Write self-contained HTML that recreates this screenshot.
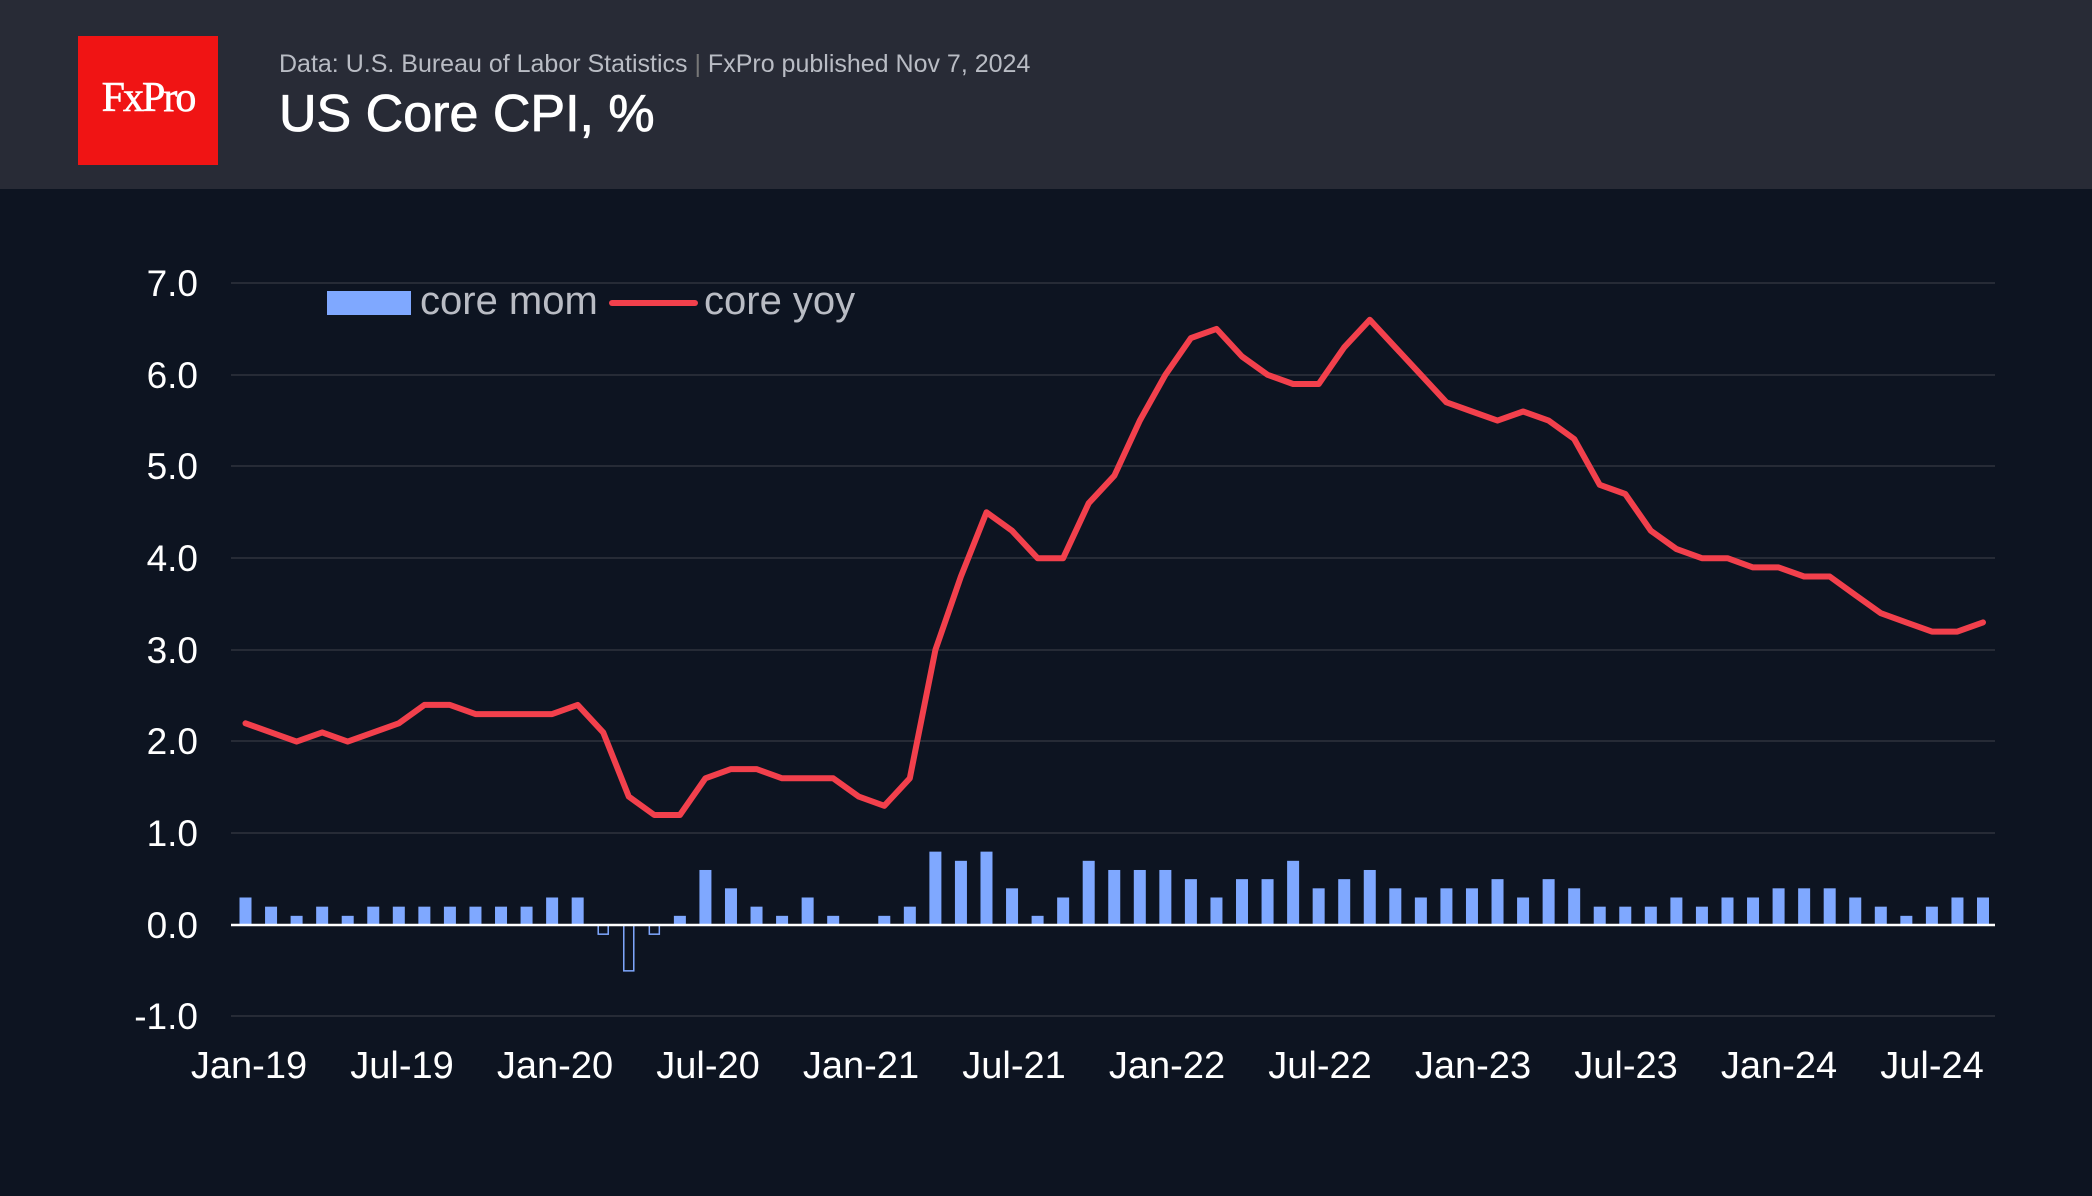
<!DOCTYPE html>
<html><head><meta charset="utf-8"><style>
html,body{margin:0;padding:0;background:#0d1421;}
body{width:2092px;height:1196px;overflow:hidden;position:relative;font-family:"Liberation Sans",sans-serif;}
</style></head><body>
<svg width="2092" height="1196" xmlns="http://www.w3.org/2000/svg" style="position:absolute;left:0;top:0">
<rect x="0" y="0" width="2092" height="1196" fill="#0d1421"/>
<rect x="0" y="0" width="2092" height="189" fill="#282b36"/>
<rect x="78" y="36" width="140" height="129" fill="#f01414"/>
<text x="148" y="111" fill="#fff" font-family="Liberation Serif,serif" font-size="42" text-anchor="middle" letter-spacing="-2" stroke="#fff" stroke-width="0.6">FxPro</text>
<text x="279" y="72" fill="#b9bcc4" font-size="25">Data: U.S. Bureau of Labor Statistics <tspan fill="#777">|</tspan> FxPro published Nov 7, 2024</text>
<text x="279" y="131" fill="#fff" font-size="52" stroke="#fff" stroke-width="0.8">US Core CPI, %</text>
<g stroke="#262b36" stroke-width="2">
<line x1="231" x2="1995" y1="283" y2="283"/><line x1="231" x2="1995" y1="375" y2="375"/>
<line x1="231" x2="1995" y1="466" y2="466"/><line x1="231" x2="1995" y1="558" y2="558"/>
<line x1="231" x2="1995" y1="650" y2="650"/><line x1="231" x2="1995" y1="741" y2="741"/>
<line x1="231" x2="1995" y1="833" y2="833"/><line x1="231" x2="1995" y1="1016" y2="1016"/>
</g>
<g fill="#fff" font-size="37" text-anchor="end">
<text x="198" y="296">7.0</text><text x="198" y="388">6.0</text><text x="198" y="479">5.0</text>
<text x="198" y="571">4.0</text><text x="198" y="663">3.0</text><text x="198" y="754">2.0</text>
<text x="198" y="846">1.0</text><text x="198" y="938">0.0</text><text x="198" y="1029">-1.0</text>
</g>
<g fill="#fff" font-size="38" text-anchor="middle">
<text x="249" y="1078">Jan-19</text><text x="402" y="1078">Jul-19</text><text x="555" y="1078">Jan-20</text>
<text x="708" y="1078">Jul-20</text><text x="861" y="1078">Jan-21</text><text x="1014" y="1078">Jul-21</text>
<text x="1167" y="1078">Jan-22</text><text x="1320" y="1078">Jul-22</text><text x="1473" y="1078">Jan-23</text>
<text x="1626" y="1078">Jul-23</text><text x="1779" y="1078">Jan-24</text><text x="1932" y="1078">Jul-24</text>
</g>
<g id="bars"></g>
<line x1="231" x2="1995" y1="925" y2="925" stroke="#fff" stroke-width="2.5"/>
<polyline id="yoy" fill="none" stroke="#f2404c" stroke-width="6" stroke-linejoin="round" stroke-linecap="round" points=""/>
<rect x="327" y="291" width="84" height="24" fill="#7fa8ff"/>
<text x="420" y="314" fill="#b9bcc4" font-size="40">core mom</text>
<line x1="612" x2="695" y1="303" y2="303" stroke="#f2404c" stroke-width="6" stroke-linecap="round"/>
<text x="704" y="314" fill="#b9bcc4" font-size="40">core yoy</text>
</svg>
<script>
var yoy=[2.2,2.1,2.0,2.1,2.0,2.1,2.2,2.4,2.4,2.3,2.3,2.3,2.3,2.4,2.1,1.4,1.2,1.2,1.6,1.7,1.7,1.6,1.6,1.6,1.4,1.3,1.6,3.0,3.8,4.5,4.3,4.0,4.0,4.6,4.9,5.5,6.0,6.4,6.5,6.2,6.0,5.9,5.9,6.3,6.6,6.3,6.0,5.7,5.6,5.5,5.6,5.5,5.3,4.8,4.7,4.3,4.1,4.0,4.0,3.9,3.9,3.8,3.8,3.6,3.4,3.3,3.2,3.2,3.3];
var mom=[.3,.2,.1,.2,.1,.2,.2,.2,.2,.2,.2,.2,.3,.3,-.1,-.5,-.1,.1,.6,.4,.2,.1,.3,.1,0,.1,.2,.8,.7,.8,.4,.1,.3,.7,.6,.6,.6,.5,.3,.5,.5,.7,.4,.5,.6,.4,.3,.4,.4,.5,.3,.5,.4,.2,.2,.2,.3,.2,.3,.3,.4,.4,.4,.3,.2,.1,.2,.3,.3];
var x0=245.5,dx=(1983-245.5)/68,z=925,u=91.7,ns="http://www.w3.org/2000/svg";
var g=document.getElementById('bars'),pts=[];
for(var i=0;i<69;i++){var x=x0+i*dx;pts.push(x.toFixed(1)+','+(z-yoy[i]*u).toFixed(1));
var m=mom[i];if(m===0)continue;var r=document.createElementNS(ns,'rect');
if(m>0){r.setAttribute('x',x-6);r.setAttribute('y',z-m*u);r.setAttribute('width',12);r.setAttribute('height',m*u);r.setAttribute('fill','#7fa8ff');}
else{r.setAttribute('x',x-5);r.setAttribute('y',z);r.setAttribute('width',10);r.setAttribute('height',-m*u);r.setAttribute('fill','none');r.setAttribute('stroke','#7fa8ff');r.setAttribute('stroke-width','1.5');}
g.appendChild(r);}
document.getElementById('yoy').setAttribute('points',pts.join(' '));
</script>
</body></html>
